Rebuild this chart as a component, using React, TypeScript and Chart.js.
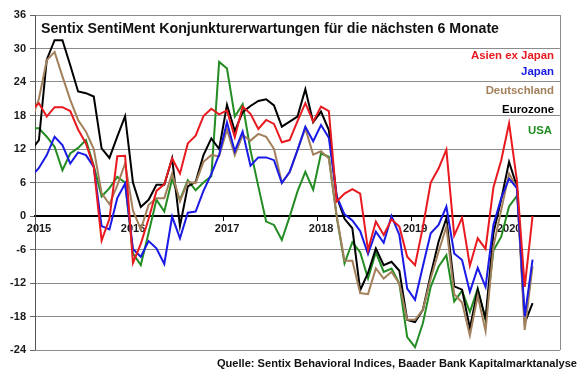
import React, { useEffect, useRef } from "react";
import { Chart, registerables } from "chart.js";

Chart.register(...registerables);

// Monthly values, first entry = Dec 2014, then Jan 2015 ... Apr 2020
const firstMonthOffset = -0.5; // Dec 2014 sits half a month before the 2015 tick
const yearLabels = ["2015", "2016", "2017", "2018", "2019", "2020"];
const yTicks = [-24, -18, -12, -6, 0, 6, 12, 18, 24, 30, 36];

const asienExJapan = [19.0, 20.2, 17.8, 19.5, 19.5, 18.8, 15.5, 13, 8.8, -4.4, -0.5, 10.7, 10.8, -8.4, -5, -0.5, 4.5, 5.7, 10.3, 7.6, 13, 14.4, 17.9, 19.2, 18.2, 18.9, 14.1, 19.6, 18.3, 15.6, 17.2, 16.5, 13.2, 13.6, 17, 20.2, 16.9, 19.6, 18.8, 2.6, 4, 4.8, 4, -6.1, -1, -3.4, -0.6, -1.9, -7.3, -8.8, -2, 6, 8.5, 11.9, -3.5, -0.3, -8.9, -4, -5.9, 5.1, 10, 16.6, 6.4, -12.7, 0];
const japan = [7.1, 8.6, 10.9, 14.2, 12.7, 9.4, 11.4, 10.9, 8.8, -1.8, -2.4, 3.2, 5.8, -5.9, -7.3, -4.5, -5.8, -8.6, -0.1, -4, 0.6, 0.8, 4.5, 7.5, 11, 16.8, 11.6, 15.1, 9, 10.5, 10.5, 10, 5.9, 7.9, 11.8, 16, 13.4, 16.3, 14, 3.5, 0.3, -0.8, -2.7, -6.8, -2.8, -4.8, 0, -3.4, -13, -15, -9, -3.1, -1.6, 1.7, -6.7, -7.9, -13.6, -9.3, -12.7, -1.6, 3.2, 6.7, 5, -18, -7.8];
const deutschland = [17, 21, 27.9, 29.4, 25, 20.8, 17.2, 15.1, 12, 4.1, 2.1, 5.5, 9.4, 1, -2.4, 2, 3.2, 3.2, 7.6, 2.6, 6.1, 5.9, 9.7, 10.9, 10.7, 15.5, 10.9, 14.5, 13.5, 14.7, 14.2, 12, 6, 7.8, 11.8, 15.7, 11, 11.6, 10.3, 0, -8, -8, -13.8, -14, -9.4, -11.2, -10, -12.1, -18.6, -18.6, -16.8, -11.2, -6.4, -1.9, -14, -15.5, -21.4, -14.3, -20.6, -5.5, 1.1, 7.6, 5, -20.4, -9];
const eurozone = [11.8, 13.6, 28, 31.5, 31.5, 27, 22.3, 22, 21.4, 12.1, 10.4, 14.2, 17.9, 6, 1.6, 2.9, 5.6, 5.6, 10.3, -1.8, 5.3, 6.1, 10.9, 13.9, 12, 19.9, 15.2, 18.6, 19.7, 20.6, 20.9, 19.8, 16, 16.9, 17.8, 22.7, 16.8, 18.7, 15.4, 3.5, -0.5, -2.2, -13.3, -10.2, -5.8, -8.8, -8.2, -9.8, -18.6, -19, -16.8, -10.5, -4.6, -0.4, -12.6, -13.2, -20.1, -13.2, -18.4, -3.1, 3, 9.7, 5.3, -19.2, -15.6];
const usa = [15.7, 15.7, 14.2, 12.4, 8.2, 11.2, 12.2, 13.6, 9, 3.5, 5, 7, 6, -6.7, -8.8, -3, 2.9, 0.8, 6.6, 2.9, 6.4, 4.6, 6, 7.1, 27.6, 26.4, 17.8, 20, 11.8, 5.3, -1, -1.6, -4.3, -0.1, 4.4, 7.9, 4.7, 11.2, 10.6, -0.1, -8.5, -4.7, -6.5, -11.2, -6.5, -10, -9.4, -12.1, -21.7, -23.5, -19.2, -12.7, -9.1, -7, -15.3, -13.4, -17.2, -13, -18.6, -6.2, -3.7, 1.7, 3.6];

const seriesNames = ["Asien ex Japan", "Japan", "Deutschland", "Eurozone", "USA"];
const seriesColors = ["#e8191f", "#1a1ae6", "#a3805c", "#000000", "#238c23"];
const titleText = "Sentix SentiMent Konjunkturerwartungen für die nächsten 6 Monate";
const sourceText = "Quelle: Sentix Behavioral Indices, Baader Bank Kapitalmarktanalyse";

const FONT = "'Liberation Sans', Arial, sans-serif";

const toPoints = (arr: number[]) => arr.map((y, i) => ({ x: firstMonthOffset + i, y }));

const textPlugin = {
  id: "texts",
  afterDraw(chart: any) {
    const { ctx, chartArea } = chart;
    ctx.save();
    // plot border
    ctx.strokeStyle = "#8c8c8c";
    ctx.lineWidth = 1;
    ctx.beginPath();
    ctx.moveTo(Math.round(chartArea.right) + 0.5, chartArea.top);
    ctx.lineTo(Math.round(chartArea.right) + 0.5, chartArea.bottom);
    ctx.moveTo(chartArea.left, Math.round(chartArea.bottom) + 0.5);
    ctx.lineTo(chartArea.right, Math.round(chartArea.bottom) + 0.5);
    ctx.stroke();
    // title
    ctx.fillStyle = "#111";
    ctx.font = `bold 14.2px ${FONT}`;
    ctx.textAlign = "left";
    ctx.textBaseline = "alphabetic";
    ctx.fillText(titleText, chartArea.left + 6, chartArea.top + 17.5);
    // legend labels
    const baselines = [59, 75, 94, 113, 134];
    const rights = [554, 554, 554, 554, 552];
    ctx.font = `bold 11.4px ${FONT}`;
    ctx.textAlign = "right";
    seriesNames.forEach((n, i) => {
      ctx.fillStyle = seriesColors[i];
      ctx.fillText(n, rights[i], baselines[i]);
    });
    // source
    ctx.fillStyle = "#111";
    ctx.font = `bold 11.1px ${FONT}`;
    ctx.textAlign = "right";
    ctx.fillText(sourceText, 577, 367);
    ctx.restore();
  },
};

export default function App() {
  const ref = useRef<HTMLCanvasElement>(null);
  useEffect(() => {
    document.body.style.margin = "0";
    const all = [asienExJapan, japan, deutschland, eurozone, usa];
    const chart = new Chart(ref.current!, {
      type: "line",
      data: {
        datasets: all.map((arr, i) => ({
          label: seriesNames[i],
          data: toPoints(arr),
          borderColor: seriesColors[i],
          backgroundColor: seriesColors[i],
          borderWidth: 2,
          pointRadius: 0,
          tension: 0,
          clip: 0,
        })),
      },
      options: {
        animation: false,
        responsive: false,
        layout: { padding: { top: 15, right: 20, bottom: 25, left: 0 } },
        plugins: { legend: { display: false }, tooltip: { enabled: false } },
        scales: {
          x: {
            type: "linear",
            position: { y: 0 },
            min: 0,
            max: 67,
            afterBuildTicks: (s: any) => {
              s.ticks = yearLabels.map((_, i) => ({ value: i * 12 }));
            },
            grid: { drawOnChartArea: false, drawTicks: true, tickLength: 4, color: "#000", tickColor: "#000" },
            border: { color: "#000", width: 2 },
            ticks: {
              autoSkip: false,
              maxRotation: 0,
              labelOffset: 4,
              padding: 2,
              color: "#1a1a1a",
              font: { family: FONT, size: 11, weight: "bold" },
              callback: (v: any) => yearLabels[Math.round(Number(v) / 12)] ?? "",
            },
          },
          y: {
            min: -24,
            max: 36,
            afterBuildTicks: (s: any) => {
              s.ticks = yTicks.map((v) => ({ value: v }));
            },
            afterFit: (s: any) => {
              s.width = 35;
            },
            grid: { color: "#8c8c8c", tickColor: "#666", tickLength: 5, lineWidth: 1 },
            border: { color: "#555", width: 1 },
            ticks: {
              padding: 4,
              color: "#1a1a1a",
              font: { family: FONT, size: 11, weight: "bold" },
            },
          },
        },
      },
      plugins: [textPlugin],
    } as any);
    return () => chart.destroy();
  }, []);
  return (
    <div style={{ width: 580, height: 375, background: "#fff" }}>
      <canvas ref={ref} width={580} height={375} />
    </div>
  );
}
